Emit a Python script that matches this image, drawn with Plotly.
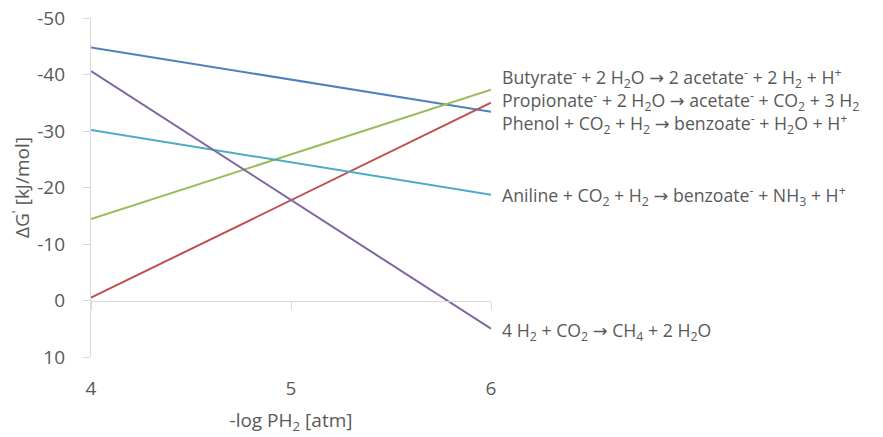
import plotly.graph_objects as go

x_vals = [4, 6]
butyrate = [-44.8, -33.4]
propionate = [-0.5, -35.0]
phenol = [-14.4, -37.3]
aniline = [-30.2, -18.7]
methan = [-40.6, 5.0]

AR = '<span style="font-family:DejaVu Sans">→</span>'

lab_butyrate = "Butyrate<sup>-</sup> + 2 H<sub>2</sub>O " + AR + " 2 acetate<sup>-</sup> + 2 H<sub>2</sub> + H<sup>+</sup>"
lab_propionate = "Propionate<sup>-</sup> + 2 H<sub>2</sub>O " + AR + " acetate<sup>-</sup> + CO<sub>2</sub> + 3 H<sub>2</sub>"
lab_phenol = "Phenol + CO<sub>2</sub> + H<sub>2</sub> " + AR + " benzoate<sup>-</sup> + H<sub>2</sub>O + H<sup>+</sup>"
lab_aniline = "Aniline + CO<sub>2</sub> + H<sub>2</sub> " + AR + " benzoate<sup>-</sup> + NH<sub>3</sub> + H<sup>+</sup>"
lab_methan = "4 H<sub>2</sub> + CO<sub>2</sub> " + AR + " CH<sub>4</sub> + 2 H<sub>2</sub>O"

series = [
    (lab_butyrate, butyrate, "#4F81BD"),
    (lab_propionate, propionate, "#C0504D"),
    (lab_phenol, phenol, "#9BBB59"),
    (lab_aniline, aniline, "#4BACC6"),
    (lab_methan, methan, "#8064A2"),
]

# label blocks: (text, y position in data units)
label_blocks = [
    ("<br>".join([lab_butyrate, lab_propionate, lab_phenol]), -35.3),
    (lab_aniline, -18.5),
    (lab_methan, 5.5),
]

y_ticks = [-50, -40, -30, -20, -10, 0, 10]
y_tick_text = ["-50", "-40", "-30", "-20", "-10", "0", "10"]
x_ticks = [4, 5, 6]

FONT = "Open Sans"
TXT = "#595959"
AX = "#D9D9D9"

fig = go.Figure()
for name, vals, col in series:
    fig.add_trace(go.Scatter(x=x_vals, y=vals, mode="lines", name=name,
                             line=dict(color=col, width=2), showlegend=False,
                             hoverinfo="skip"))
for txt, ly in label_blocks:
    fig.add_annotation(x=6, y=ly, xref="x", yref="y", text=txt, showarrow=False,
                       xanchor="left", yanchor="middle", xshift=9, align="left",
                       font=dict(family=FONT, size=17.7, color=TXT))

# invisible trace for the crossing axis at y = 0
fig.add_trace(go.Scatter(x=x_vals, y=[0, 0], xaxis="x2", mode="lines",
                         line=dict(width=0), showlegend=False, hoverinfo="skip"))

fig.update_layout(
    width=883, height=437,
    margin=dict(l=91, r=392, t=18, b=80),
    paper_bgcolor="white", plot_bgcolor="white",
    font=dict(family=FONT, size=18, color=TXT),
    xaxis=dict(range=[4, 6], tickvals=x_ticks, showgrid=False, zeroline=False,
               showline=False, ticks="", tickfont=dict(size=19, color=TXT),
               ticklabelstandoff=18, automargin=False,
               title=dict(text="-log PH<sub>2</sub> [atm]", font=dict(size=19, color=TXT), standoff=13)),
    xaxis2=dict(range=[4, 6], overlaying="x", anchor="free", position=1/6,
                tickvals=x_ticks, showgrid=False, zeroline=False, showline=True,
                linecolor=AX, linewidth=1.3, ticks="outside", ticklen=8, tickcolor=AX,
                showticklabels=False, side="bottom", automargin=False),
    yaxis=dict(range=[10, -50], tickvals=y_ticks, ticktext=y_tick_text,
               showgrid=False, zeroline=False, automargin=False,
               showline=True, linecolor=AX, linewidth=1.3, ticks="outside",
               ticklen=7, tickcolor=AX, tickfont=dict(size=19, color=TXT),
               ticklabelstandoff=14,
               title=dict(text="ΔG<sup>'</sup> [kJ/mol]", font=dict(size=19, color=TXT), standoff=2)),
)

fig.write_html("out.html")
